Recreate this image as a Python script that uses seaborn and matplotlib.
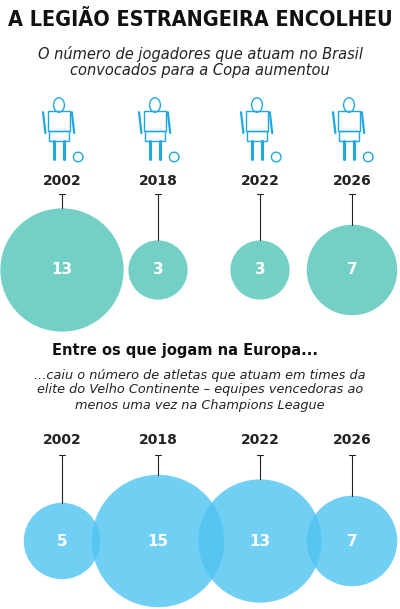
import matplotlib
matplotlib.use("Agg")
import matplotlib.pyplot as plt
import seaborn as sns
import numpy as np
from matplotlib.patches import Circle, Ellipse, Rectangle

years = ["2002", "2018", "2022", "2026"]
brasil = [13, 3, 3, 7]
elite_europa = [5, 15, 13, 7]

sns.set_theme(style="white")
plt.rcParams['font.family'] = ['DejaVu Sans']

fig = plt.figure(figsize=(4, 6.09), dpi=100)
ax = fig.add_axes([0, 0, 1, 1])
ax.set_xlim(0, 400)
ax.set_ylim(609, 0)
ax.axis("off")

xs = [62, 158, 260, 352]
k = 17.1  # radius per sqrt(value)
teal = "#74d0c5"
blue = "#4fc3f2"
icon = "#1fa8e0"

ax.text(200, 20, "A LEGIÃO ESTRANGEIRA ENCOLHEU", ha="center", va="center",
        fontsize=15.5, fontweight="heavy", fontstretch="condensed", color="#111")
ax.text(200, 62, "O número de jogadores que atuam no Brasil\nconvocados para a Copa aumentou",
        ha="center", va="center", fontsize=10.5, style="italic", color="#222", linespacing=1.15)


def player(x, y, s=1.6):
    # simple outline of a standing player with a ball
    ax.add_patch(Ellipse((x, y - 36 * s / 1.6 - 0), 9 * s / 1.6 * 1.2, 12 * s / 1.6 * 1.2, fill=False, ec=icon, lw=1))
    ax.add_patch(Rectangle((x - 7 * s, y - 19 * s), 14 * s, 13 * s, fill=False, ec=icon, lw=1))
    ax.add_patch(Rectangle((x - 6 * s, y - 6 * s), 12 * s, 6 * s, fill=False, ec=icon, lw=1))
    for dx in (-10, 8):
        ax.plot([x + dx * s, x + (dx + 1.5) * s], [y - 18 * s, y - 5 * s], color=icon, lw=1.6)
    for dx in (-3, 3):
        ax.plot([x + dx * s, x + dx * s], [y, y + 11 * s], color=icon, lw=2.2)
    ax.add_patch(Circle((x + 12 * s, y + 10 * s), 3 * s, fill=False, ec=icon, lw=1))


cy_top = 270
for x, y, v in zip(xs, years, brasil):
    player(x - 3, 141)
    ax.text(x, 181, y, ha="center", va="center", fontsize=10, fontweight="bold", color="#222")
    r = k * np.sqrt(v)
    ax.plot([x, x], [194, cy_top - r], color="#222", lw=0.8)
    ax.plot([x - 3, x + 3], [194, 194], color="#222", lw=0.8)
    ax.add_patch(Circle((x, cy_top), r, color=teal, lw=0))
    ax.text(x, cy_top, str(v), ha="center", va="center", fontsize=11, fontweight="bold", color="white")

ax.text(185, 350, "Entre os que jogam na Europa...", ha="center", va="center",
        fontsize=10.5, fontweight="bold", color="#111")
ax.text(200, 390, "...caiu o número de atletas que atuam em times da\nelite do Velho Continente – equipes vencedoras ao\nmenos uma vez na Champions League",
        ha="center", va="center", fontsize=9.3, style="italic", color="#222", linespacing=1.2)

cy_bot = 541
for x, y, v in zip(xs, years, elite_europa):
    ax.text(x, 440, y, ha="center", va="center", fontsize=10, fontweight="bold", color="#222")
    r = k * np.sqrt(v)
    ax.plot([x, x], [455, cy_bot - r], color="#222", lw=0.8)
    ax.plot([x - 3, x + 3], [455, 455], color="#222", lw=0.8)
    ax.add_patch(Circle((x, cy_bot), r, color=blue, alpha=0.8, lw=0))
    ax.text(x, cy_bot, str(v), ha="center", va="center", fontsize=11, fontweight="bold", color="white")

fig.savefig("out.png", dpi=100)
